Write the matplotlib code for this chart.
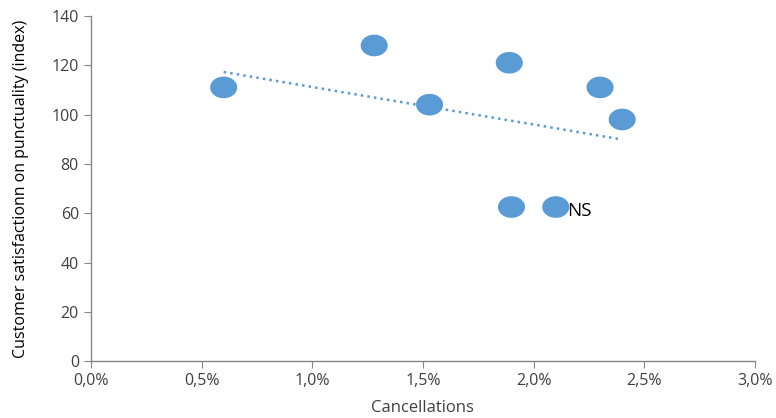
import numpy as np
import matplotlib.pyplot as plt
from matplotlib.path import Path
from matplotlib.ticker import FuncFormatter

plt.rcParams['font.family'] = ['Open Sans', 'DejaVu Sans']

# cancellations (%) vs satisfaction index
cancellations = [0.60, 1.28, 1.53, 1.89, 1.90, 2.10, 2.30, 2.40]
satisfaction = [111, 128, 104, 121, 62.5, 62.5, 111, 98]
label_idx = 5
label_text = 'NS'

blue = '#5B9BD5'
grey = '#868686'

fig = plt.figure(figsize=(7.76, 4.18), dpi=100)
ax = fig.add_axes([0.117, 0.136, 0.856, 0.826])

# slightly wide ellipse marker, like the original
t = np.linspace(0, 2 * np.pi, 60)
ellipse = Path(np.column_stack([1.25 * np.cos(t), np.sin(t)]), closed=True)

ax.scatter(cancellations, satisfaction, marker=ellipse, s=380, color=blue,
           edgecolors='none', zorder=3)

# linear trendline
k, b = np.polyfit(cancellations, satisfaction, 1)
xs = np.array([min(cancellations), max(cancellations)])
ax.plot(xs, k * xs + b, ':', color=blue, lw=1.8, zorder=2)

ax.text(cancellations[label_idx] + 0.05, satisfaction[label_idx] - 1.5, label_text,
        fontsize=13.5, va='center', ha='left', color='black')

ax.set_xlim(0, 3)
ax.set_ylim(0, 140)
ax.set_xticks(np.arange(0, 3.01, 0.5))
ax.set_yticks(np.arange(0, 141, 20))
ax.xaxis.set_major_formatter(FuncFormatter(lambda v, p: f'{v:.1f}%'.replace('.', ',')))

for side in ['top', 'right']:
    ax.spines[side].set_visible(False)
for side in ['left', 'bottom']:
    ax.spines[side].set_color(grey)
    ax.spines[side].set_linewidth(1)
ax.tick_params(colors=grey, labelcolor='#404040', labelsize=11.5, length=5, direction='out')

ax.set_xlabel('Cancellations', fontsize=12, color='#404040', va='center')
ax.xaxis.set_label_coords(0.5, -0.135)
ax.set_ylabel('Customer satisfactionn on punctuality (index)', fontsize=11.5,
              color='#000000', va='center')
ax.yaxis.set_label_coords(-0.105, 0.5)

fig.savefig('out.png', dpi=100)
